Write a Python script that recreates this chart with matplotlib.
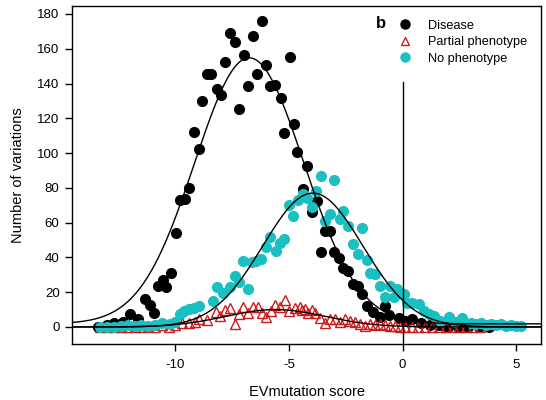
import numpy as np
import matplotlib
matplotlib.use("Agg")
import matplotlib.pyplot as plt
from matplotlib.lines import Line2D

plt.rcParams['font.family'] = ['Liberation Sans', 'DejaVu Sans']
plt.rcParams['axes.unicode_minus'] = False

# ---------------- data ----------------
disease_x = [-13.4, -13.0, -12.7, -12.32, -11.98, -11.66, -11.36, -11.14, -10.95, -10.77,
             -10.55, -10.4, -10.18, -9.96, -9.82, -9.59, -9.42, -9.2, -8.98, -8.81,
             -8.61, -8.42, -8.19, -8.0, -7.8, -7.6, -7.38, -7.19, -6.99, -6.8,
             -6.58, -6.4, -6.18, -5.99, -5.84, -5.62, -5.35, -5.2, -4.96, -4.8,
             -4.66, -4.4, -4.19, -4.0, -3.78, -3.6, -3.41, -3.19, -3.01, -2.79,
             -2.6, -2.41, -2.2, -1.98, -1.79, -1.57, -1.28, -0.98, -0.79, -0.58,
             -0.17, 0.12, 0.42, 0.8, 1.2, 1.6, 2.0, 2.46, 2.9, 3.36, 3.8]
disease_y = [0, 1, 2, 3, 7.3, 4.4, 16, 12.7, 8.3, 23.7,
             26.9, 22.7, 31.3, 53.9, 73.1, 73.7, 80, 112.1, 102.1, 130.2,
             145.4, 145.4, 136.8, 133.3, 152.5, 169, 163.7, 125.2, 156.4, 138.7,
             167.5, 145.4, 176, 150.6, 138.7, 139, 131.4, 111.5, 155.4, 116.6,
             100.6, 79.5, 92.3, 66, 72.7, 42.9, 55, 55, 42.9, 39.6,
             33.9, 31.9, 24.6, 23.7, 19.2, 12.1, 8.8, 5.8, 12.1, 6.9,
             5.0, 3.5, 4.4, 2, 1, 1, 0, 0, 0, 0, 0]

partial_x = [-13.3, -13.0, -12.7, -12.4, -12.1, -11.8, -11.5, -11.2, -10.9, -10.6,
             -10.3, -10.0, -9.7, -9.4, -9.15, -8.96, -8.6, -8.22, -8.02, -7.83,
             -7.6, -7.38, -7.19, -7.02, -6.8, -6.58, -6.36, -6.2, -6.0, -5.77,
             -5.62, -5.4, -5.18, -4.98, -4.73, -4.51, -4.44, -4.29, -4.15, -4.0,
             -3.85, -3.63, -3.42, -3.2, -2.98, -2.76, -2.54, -2.32, -2.1, -1.88,
             -1.66, -1.44, -1.22, -1.0, -0.78, -0.56, -0.33, -0.1, 0.12, 0.4,
             0.7, 1.0, 1.3, 1.6, 1.9, 2.2, 2.5, 2.8, 3.1, 3.4]
partial_y = [0, 0, 0, 0, 0, 0, 0, 0, 0, 1,
             0, 1, 2, 2, 3.1, 4.4, 4, 8.8, 6.3, 9.6,
             10.8, 1.9, 7.7, 11.2, 8.3, 11.2, 11.5, 8.3, 5.8, 9.2,
             12.7, 11.2, 15.4, 9.2, 10.8, 11.2, 9.6, 10.2, 8.3, 9.6,
             8, 5.4, 2.5, 4.4, 4.4, 3.1, 4.4, 3.5, 3.1, 1.9,
             0.6, 1.6, 1.2, 1.6, 1.2, 0.6, 0.5, 0.2, 0.2, 0,
             0, 0, 0, 0, 0, 0, 0, 0, 0, 0]

nophen_x = [-13.3, -13.0, -12.7, -12.4, -12.1, -11.8, -11.5, -11.2, -10.9, -10.6,
            -10.26, -10.0, -9.82, -9.6, -9.38, -9.2, -8.96, -8.34, -8.19, -7.9,
            -7.6, -7.38, -7.21, -7.02, -6.8, -6.65, -6.43, -6.21, -5.99, -5.84,
            -5.57, -5.4, -5.21, -4.99, -4.81, -4.59, -4.37, -4.2, -4.0, -3.8,
            -3.6, -3.41, -3.19, -3.0, -2.75, -2.6, -2.38, -2.2, -1.97, -1.79,
            -1.56, -1.42, -1.2, -0.98, -0.76, -0.54, -0.39, -0.24, 0.05, 0.2,
            0.42, 0.71, 0.93, 1.15, 1.37, 1.67, 2.04, 2.3, 2.63, 3.0,
            3.2, 3.44, 3.66, 3.88, 4.1, 4.32, 4.54, 4.76, 5.0, 5.2]
nophen_y = [0, 0, 0, 0.5, 1, 0.5, 1, 0.5, 1, 2,
            1.5, 3, 7.3, 9.2, 10.2, 11, 12.1, 15, 22.7, 19.8,
            22.7, 29.4, 26.1, 37.7, 21.8, 37.1, 38.1, 39.1, 45.8, 51.5,
            43.5, 48.1, 50.6, 70.4, 64, 73.1, 76.6, 74, 68.8, 78,
            87.1, 60.8, 65, 84.8, 62.1, 66.9, 57.9, 47.7, 41.9, 56.7,
            38.5, 30.8, 30.4, 23.7, 17.5, 23.7, 17.5, 21.8, 18.9, 14,
            14, 13.1, 9.2, 7.3, 6.3, 3.5, 5.8, 3, 5.4, 2.5,
            1.5, 2.5, 1, 1.8, 1, 1.5, 0.5, 1.0, 0.5, 0.5]

# Gaussian fit parameters: amplitude, mean, sd, baseline
fit_amp = [153, 10, 77]
fit_mean = [-6.75, -5.6, -3.95]
fit_sd = [2.4, 2.2, 2.2]
fit_base = [1.8, 0.0, 0.0]

x_ticks = [-10, -5, 0, 5]
y_ticks = [0, 20, 40, 60, 80, 100, 120, 140, 160, 180]
labels = ["Disease", "Partial phenotype", "No phenotype"]

black = "#000000"
red = "#CC1A1A"
cyan = "#1ABFC2"

# ---------------- figure ----------------
fig = plt.figure(figsize=(5.46, 4.0), dpi=100)
ax = fig.add_axes([0.132, 0.14, 0.859, 0.845])

xlim = (-14.55, 6.1)
ylim = (-9.8, 184.6)

ax.plot(disease_x, disease_y, 'o', color=black, ms=7, mec=black, zorder=3)
ax.plot(partial_x, partial_y, '^', color=red, mfc='none', ms=6.5, mew=1.0, zorder=3)
ax.plot(nophen_x, nophen_y, 'o', color=cyan, ms=7, mec=cyan, zorder=3)

xx = np.linspace(xlim[0], xlim[1], 600)
for a, m, s, b in zip(fit_amp, fit_mean, fit_sd, fit_base):
    ax.plot(xx, a * np.exp(-(xx - m) ** 2 / (2 * s ** 2)) + b, color='black', lw=1.0, zorder=4)

ax.plot([0, 0], [ylim[0], 141], color='black', lw=1.0, zorder=4)

ax.set_xlim(*xlim)
ax.set_ylim(*ylim)
ax.set_xticks(x_ticks)
ax.set_yticks(y_ticks)
ax.tick_params(direction='out', length=5, width=1, labelsize=9.5, pad=4)
ax.tick_params(axis='x', pad=6)
for sp in ax.spines.values():
    sp.set_linewidth(1.0)

ax.set_xlabel("EVmutation score", fontsize=10.5, labelpad=10)
ax.set_ylabel("Number of variations", fontsize=10.5, labelpad=9)

handles = [
    Line2D([], [], marker='o', ls='none', color=black, ms=6.5),
    Line2D([], [], marker='^', ls='none', color=red, mfc='none', ms=6.0, mew=1.0),
    Line2D([], [], marker='o', ls='none', color=cyan, ms=6.5),
]
leg = ax.legend(handles, labels, loc='upper left', bbox_to_anchor=(0.697, 0.960),
                frameon=False, fontsize=9.2, handlelength=1.0, handletextpad=1.3,
                labelspacing=0.36, borderaxespad=0, borderpad=0)
fig.text(381 / 546, 1 - 23 / 400, "b", fontsize=12, fontweight='bold', ha='center', va='center')

fig.savefig("out.png", dpi=100)
